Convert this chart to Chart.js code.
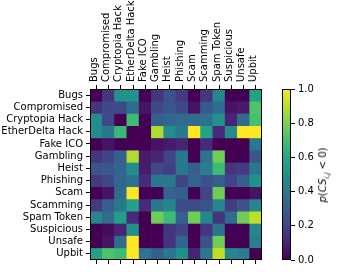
<!DOCTYPE html>
<html>
<head>
<meta charset="utf-8">
<script src="https://cdn.jsdelivr.net/npm/chart.js@4"></script>
<style>
  body { margin: 0; background: #fff; }
  #wrap { position: relative; width: 338px; height: 272px; }
  #heat { position: absolute; left: 0; top: 0; }
  #cbar { position: absolute; left: 272px; top: 0; }
  #cblabel {
    position: absolute; left: 324px; top: 175px;
    transform: translate(-50%, -50%) rotate(-90deg);
    font-family: "DejaVu Sans"; font-size: 10px; white-space: nowrap; color: #000;
  }
  #cblabel sub { font-size: 7px; }
</style>
</head>
<body>
<div id="wrap">
  <canvas id="heat" width="272" height="272"></canvas>
  <canvas id="cbar" width="66" height="272"></canvas>
  <div id="cblabel"><i>p</i>(<i>CS</i><sub><i>i,j</i></sub> &lt; 0)</div>
</div>
<script>
const labels = ["Bugs", "Compromised", "Cryptopia Hack", "EtherDelta Hack", "Fake ICO", "Gambling",
  "Heist", "Phishing", "Scam", "Scamming", "Spam Token", "Suspicious", "Unsafe", "Upbit"];

// one row per category, columns in the same order as labels
const rowBugs        = [0.00, 0.15, 0.50, 0.50, 0.00, 0.15, 0.25, 0.17, 0.00, 0.15, 0.45, 0.00, 0.00, 0.58];
const rowCompromised = [0.15, 0.22, 0.22, 0.35, 0.05, 0.22, 0.27, 0.22, 0.05, 0.28, 0.35, 0.05, 0.07, 0.72];
const rowCryptopia   = [0.48, 0.22, 0.00, 0.68, 0.00, 0.30, 0.33, 0.35, 0.35, 0.37, 0.50, 0.10, 0.35, 0.70];
const rowEtherDelta  = [0.48, 0.40, 0.67, 0.00, 0.00, 0.88, 0.48, 0.40, 1.00, 0.58, 0.12, 0.48, 1.00, 1.00];
const rowFakeICO     = [0.00, 0.05, 0.00, 0.00, 0.00, 0.05, 0.07, 0.10, 0.00, 0.12, 0.00, 0.00, 0.00, 0.40];
const rowGambling    = [0.15, 0.20, 0.30, 0.88, 0.07, 0.10, 0.20, 0.40, 0.00, 0.38, 0.78, 0.00, 0.00, 0.27];
const rowHeist       = [0.25, 0.27, 0.32, 0.48, 0.08, 0.22, 0.18, 0.40, 0.30, 0.42, 0.68, 0.15, 0.17, 0.40];
const rowPhishing    = [0.17, 0.22, 0.33, 0.38, 0.12, 0.40, 0.40, 0.20, 0.32, 0.25, 0.30, 0.20, 0.30, 0.50];
const rowScam        = [0.00, 0.05, 0.35, 1.00, 0.00, 0.00, 0.32, 0.30, 0.00, 0.20, 0.78, 0.00, 0.00, 0.05];
const rowScamming    = [0.17, 0.30, 0.40, 0.58, 0.12, 0.40, 0.45, 0.23, 0.23, 0.25, 0.45, 0.18, 0.25, 0.45];
const rowSpamToken   = [0.45, 0.35, 0.55, 0.12, 0.00, 0.78, 0.68, 0.30, 0.78, 0.45, 0.15, 0.35, 0.78, 0.90];
const rowSuspicious  = [0.00, 0.03, 0.10, 0.50, 0.00, 0.00, 0.15, 0.20, 0.00, 0.15, 0.38, 0.00, 0.00, 0.45];
const rowUnsafe      = [0.00, 0.05, 0.35, 1.00, 0.00, 0.00, 0.15, 0.33, 0.00, 0.25, 0.78, 0.00, 0.00, 0.42];
const rowUpbit       = [0.58, 0.72, 0.68, 1.00, 0.38, 0.30, 0.40, 0.50, 0.10, 0.40, 0.90, 0.45, 0.42, 0.00];

const colorbarTicks = [0, 0.2, 0.4, 0.6, 0.8, 1.0];

const matrix = [rowBugs, rowCompromised, rowCryptopia, rowEtherDelta, rowFakeICO, rowGambling,
  rowHeist, rowPhishing, rowScam, rowScamming, rowSpamToken, rowSuspicious, rowUnsafe, rowUpbit];

// viridis, sampled every 0.1
const viridisStops = ["#440154", "#482475", "#414487", "#355f8d", "#2a788e", "#21918c",
  "#22a884", "#44bf70", "#7ad151", "#bddf26", "#fde725"];

function hexToRgb(h) {
  return [parseInt(h.slice(1, 3), 16), parseInt(h.slice(3, 5), 16), parseInt(h.slice(5, 7), 16)];
}

function viridis(v) {
  v = Math.max(0, Math.min(1, v));
  const pos = v * (viridisStops.length - 1);
  const i = Math.min(Math.floor(pos), viridisStops.length - 2);
  const t = pos - i;
  const a = hexToRgb(viridisStops[i]);
  const b = hexToRgb(viridisStops[i + 1]);
  const c = a.map((x, k) => Math.round(x + (b[k] - x) * t));
  return "rgb(" + c.join(",") + ")";
}

Chart.defaults.font.family = "DejaVu Sans";
Chart.defaults.font.size = 10;
Chart.defaults.color = "#000";

// black frame round the plot area, like matplotlib spines
const frame = {
  id: "frame",
  afterDraw(chart) {
    const { ctx, chartArea: a } = chart;
    ctx.save();
    ctx.strokeStyle = "#000";
    ctx.lineWidth = 1;
    ctx.strokeRect(a.left + 0.5, a.top + 0.5, a.right - a.left - 1, a.bottom - a.top - 1);
    ctx.restore();
  }
};

const tickGrid = { offset: false, drawOnChartArea: false, color: "#000", tickLength: 4, tickWidth: 1 };

new Chart(document.getElementById("heat"), {
  type: "bar",
  data: {
    labels: labels,
    datasets: matrix.map((row, r) => ({
      label: labels[r],
      data: row.map(() => [r - 0.5, r + 0.5]),
      backgroundColor: row.map(viridis),
      borderWidth: 0,
      barPercentage: 1,
      categoryPercentage: 1,
      grouped: false,
      xAxisID: "x",
      yAxisID: "y"
    }))
  },
  options: {
    responsive: false,
    animation: false,
    layout: { padding: { left: 0, right: 10, top: 0, bottom: 0 } },
    plugins: { legend: { display: false }, tooltip: { enabled: false } },
    scales: {
      x: {
        type: "category",
        position: "top",
        offset: true,
        grid: tickGrid,
        border: { display: false },
        ticks: { minRotation: 90, maxRotation: 90, autoSkip: false, padding: 3, labelOffset: 10 },
        afterFit: (s) => { s.height = 89; }
      },
      x2: {
        type: "category",
        position: "bottom",
        labels: labels,
        offset: true,
        grid: tickGrid,
        border: { display: false },
        ticks: { callback: () => "", autoSkip: false },
        afterFit: (s) => { s.height = 12; }
      },
      y: {
        type: "linear",
        min: -0.5,
        max: 13.5,
        reverse: true,
        grid: tickGrid,
        border: { display: false },
        afterBuildTicks: (s) => { s.ticks = labels.map((_, i) => ({ value: i })); },
        ticks: { autoSkip: false, callback: (v) => labels[v], padding: 3 },
        afterFit: (s) => { s.width = 90; }
      }
    }
  },
  plugins: [frame]
});

new Chart(document.getElementById("cbar"), {
  type: "bar",
  data: {
    labels: [""],
    datasets: [{
      data: [[0, 1]],
      borderWidth: 0,
      barPercentage: 1,
      categoryPercentage: 1,
      backgroundColor: (c) => {
        const a = c.chart.chartArea;
        if (!a) return viridis(0.5);
        const g = c.chart.ctx.createLinearGradient(0, a.bottom, 0, a.top);
        viridisStops.forEach((col, i) => g.addColorStop(i / (viridisStops.length - 1), col));
        return g;
      }
    }]
  },
  options: {
    responsive: false,
    animation: false,
    layout: { padding: { left: 10, right: 0, top: 89, bottom: 12 } },
    plugins: { legend: { display: false }, tooltip: { enabled: false } },
    scales: {
      x: { display: false },
      y: {
        position: "right",
        min: 0,
        max: 1,
        grid: tickGrid,
        border: { display: false },
        afterBuildTicks: (s) => { s.ticks = colorbarTicks.map((v) => ({ value: v })); },
        ticks: { callback: (v) => v.toFixed(1), padding: 3 },
        afterFit: (s) => { s.width = 47; }
      }
    }
  },
  plugins: [frame]
});
</script>
</body>
</html>
